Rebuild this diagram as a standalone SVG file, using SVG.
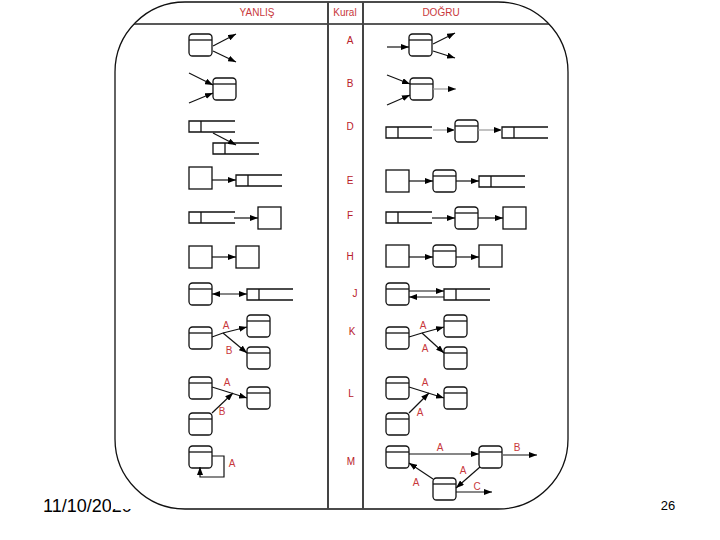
<svg xmlns="http://www.w3.org/2000/svg" xmlns:xlink="http://www.w3.org/1999/xlink" width="720" height="540" viewBox="0 0 720 540">
<style>
.t{font-family:"Liberation Sans",Arial,sans-serif;font-size:10px;fill:#c8383c;text-anchor:middle}
.k{font-family:"Liberation Sans",Arial,sans-serif;font-size:10px;fill:#b8202a;text-anchor:middle}
.c path{fill:none;stroke:#111;stroke-width:1.2;marker-end:url(#ah)}
.c path.g{stroke:#999}
.nd{fill:#fff;stroke:#111;stroke-width:1.3}
</style>
<defs>
<marker id="ah" markerUnits="userSpaceOnUse" markerWidth="8" markerHeight="6" refX="8" refY="3" orient="auto-start-reverse"><path d="M0,0 L8,3 L0,6 z" fill="#000"/></marker>
<g id="proc"><rect x="0" y="0" width="23" height="22" rx="3.5" class="nd"/><line x1="0" y1="6" x2="23" y2="6" stroke="#111" stroke-width="1.3"/></g>
<rect id="sq" x="0" y="0" width="23" height="22" class="nd"/>
<path id="store" d="M46,0 H0 V11 H46 M12,0 V11" fill="none" stroke="#111" stroke-width="1.3"/>
</defs>
<rect width="720" height="540" fill="#fff"/>
<text x="43" y="512" font-family="Liberation Sans,Arial,sans-serif" font-size="18" fill="#000">11/10/2020</text>
<rect x="111" y="0" width="462" height="509" fill="#fff"/>
<text x="668" y="510" font-family="Liberation Sans,Arial,sans-serif" font-size="13" fill="#000" text-anchor="middle">26</text>
<g id="frame">
<rect x="115" y="2" width="453" height="507" rx="70" fill="none" stroke="#111" stroke-width="1.3"/>
<line x1="134" y1="24" x2="549" y2="24" stroke="#222" stroke-width="1.3"/>
<line x1="328" y1="2" x2="328" y2="509" stroke="#444" stroke-width="2"/>
<line x1="363" y1="2" x2="363" y2="509" stroke="#444" stroke-width="2"/>
<text class="t" x="257" y="16">YANLIŞ</text>
<text class="t" x="345" y="16">Kural</text>
<text class="t" x="441" y="16">DOĞRU</text>
</g>
<g id="rules">
<text class="k" x="350" y="44">A</text>
<text class="k" x="350" y="87">B</text>
<text class="k" x="350" y="130">D</text>
<text class="k" x="350" y="184">E</text>
<text class="k" x="350" y="219">F</text>
<text class="k" x="350" y="260">H</text>
<text class="k" x="355" y="297">J</text>
<text class="k" x="352" y="335">K</text>
<text class="k" x="351" y="397">L</text>
<text class="k" x="351" y="465">M</text>
</g>
<g id="wrong">
<g id="wA"><use href="#proc" x="189" y="34"/></g>
<g id="wB"><use href="#proc" x="213" y="78"/></g>
<g id="wD"><use href="#store" x="189" y="121"/><use href="#store" x="213" y="143"/></g>
<g id="wE"><use href="#sq" x="189" y="167"/><use href="#store" x="236" y="175"/></g>
<g id="wF"><use href="#store" x="189" y="212"/><use href="#sq" x="258" y="207"/></g>
<g id="wH"><use href="#sq" x="189" y="246"/><use href="#sq" x="236" y="246"/></g>
<g id="wJ"><use href="#proc" x="189" y="283"/><use href="#store" x="247" y="289"/></g>
<g id="wK"><use href="#proc" x="189" y="327"/><use href="#proc" x="247" y="315"/><use href="#proc" x="247" y="347"/></g>
<g id="wL"><use href="#proc" x="189" y="377"/><use href="#proc" x="189" y="413"/><use href="#proc" x="247" y="387"/></g>
<g id="wM"><use href="#proc" x="189" y="446"/></g>
</g>
<g id="right">
<g id="rA"><use href="#proc" x="409" y="34"/></g>
<g id="rB"><use href="#proc" x="410" y="78"/></g>
<g id="rD"><use href="#store" x="386" y="127"/><use href="#proc" x="455" y="120"/><use href="#store" x="502" y="127"/></g>
<g id="rE"><use href="#sq" x="386" y="170"/><use href="#proc" x="433" y="170"/><use href="#store" x="479" y="176"/></g>
<g id="rF"><use href="#store" x="386" y="212"/><use href="#proc" x="455" y="207"/><use href="#sq" x="503" y="207"/></g>
<g id="rH"><use href="#sq" x="386" y="245"/><use href="#proc" x="433" y="245"/><use href="#sq" x="479" y="245"/></g>
<g id="rJ"><use href="#proc" x="386" y="283"/><use href="#store" x="444" y="289"/></g>
<g id="rK"><use href="#proc" x="386" y="327"/><use href="#proc" x="444" y="315"/><use href="#proc" x="444" y="347"/></g>
<g id="rL"><use href="#proc" x="386" y="377"/><use href="#proc" x="386" y="413"/><use href="#proc" x="444" y="387"/></g>
<g id="rM"><use href="#proc" x="386" y="446"/><use href="#proc" x="479" y="446"/><use href="#proc" x="433" y="478"/></g>
</g>
<g id="connectors" class="c">
<path d="M213,46 L236,34"/><path d="M213,51 L236,62"/>
<path d="M189,73 L213,85"/><path d="M189,103 L213,93"/>
<path d="M213,133 L236,145"/>
<path d="M212,180 L236,180"/>
<path d="M234,218 L258,218"/>
<path d="M212,257 L236,257"/>
<path d="M212,294 L247,294" style="marker-start:url(#ah)"/>
<path d="M212,337 L223,333 L247,327"/><path d="M223,333 L247,353"/>
<path d="M212,387 L247,398"/><path d="M212,413 L233,393"/>
<path d="M212,456 H224 V477 H200 V467"/>
<path d="M387,47 L409,47"/><path d="M433,44 L455,33"/><path d="M433,51 L455,58"/>
<path d="M387,75 L410,84"/><path d="M387,105 L410,95"/><path class="g" d="M433,89 L456,89"/>
<path class="g" d="M433,130 L455,130"/><path class="g" d="M478,130 L502,130"/>
<path d="M409,181 L433,181"/><path d="M456,181 L479,181"/>
<path d="M432,218 L455,218"/><path d="M478,218 L503,218"/>
<path d="M409,257 L433,257"/><path d="M456,257 L479,257"/>
<path d="M409,291 L444,291"/><path d="M444,297 L409,297"/>
<path d="M409,337 L422,333 L444,327"/><path d="M422,333 L444,353"/>
<path d="M409,387 L444,398"/><path d="M409,413 L429,393"/>
<path d="M409,454 L479,454"/><path d="M503,455 L537,455"/>
<path d="M433,479 L409,463"/><path d="M480,467 L456,488"/>
<path d="M456,492 L492,492"/>
</g>
<g id="labels">
<text class="t" x="226" y="329">A</text>
<text class="t" x="229" y="354">B</text>
<text class="t" x="227" y="386">A</text>
<text class="t" x="222" y="415">B</text>
<text class="t" x="232" y="467">A</text>
<text class="t" x="423" y="329">A</text>
<text class="t" x="425" y="352">A</text>
<text class="t" x="425" y="386">A</text>
<text class="t" x="420" y="416">A</text>
<text class="t" x="440" y="451">A</text>
<text class="t" x="517" y="451">B</text>
<text class="t" x="463" y="474">A</text>
<text class="t" x="416" y="486">A</text>
<text class="t" x="477" y="490">C</text>
</g>
</svg>
